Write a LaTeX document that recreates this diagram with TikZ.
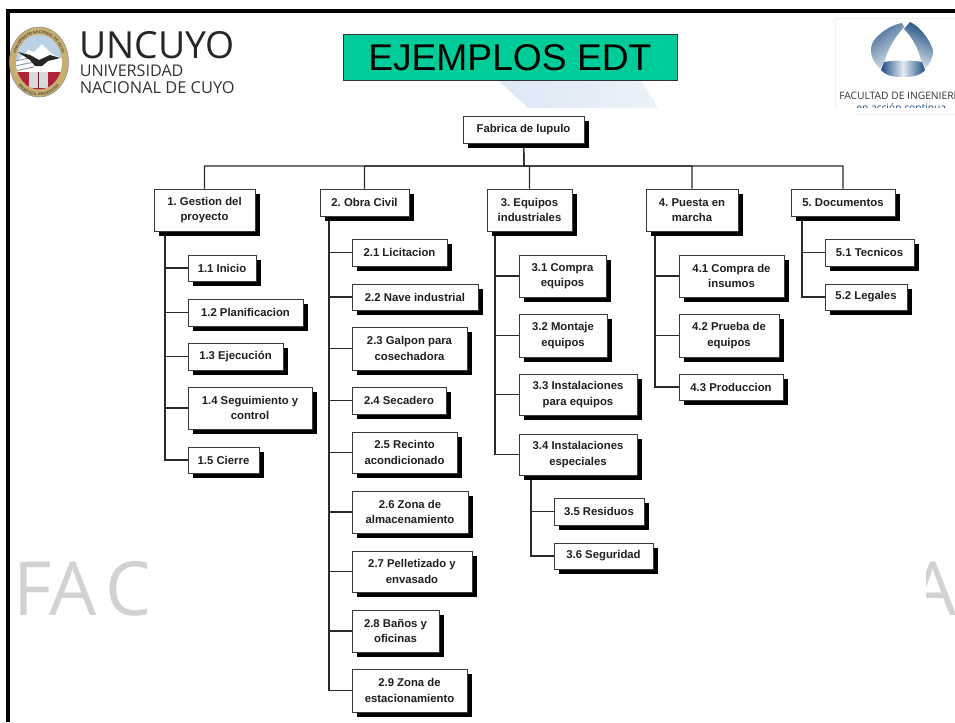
\documentclass[tikz,border=0pt]{standalone}
\usepackage{fontspec}
\setmainfont{Liberation Sans}
\newfontfamily\logofont{Open Sans}
\usetikzlibrary{shadows,backgrounds,decorations.text}
\frenchspacing
\newcommand{\boxfont}{\bfseries\fontsize{8.5}{11.5}\selectfont}
\newcommand{\sealfont}{\bfseries\fontsize{3}{3}\selectfont}
\definecolor{titlegreen}{HTML}{00CC99}
\definecolor{linegray}{HTML}{2A2A2A}
\definecolor{boxedge}{HTML}{3A3A3A}
\definecolor{markgray}{HTML}{D2D2D2}
\definecolor{logoblue}{HTML}{1F4E80}
\definecolor{logolight}{HTML}{E4EBF3}
\definecolor{sealtan}{HTML}{C9AE6E}
\definecolor{sealred}{HTML}{B0243A}
\definecolor{sealsky}{HTML}{B9D2E6}
\definecolor{wash}{HTML}{DCE8F5}
\tikzset{
  wbsbox/.style={draw=boxedge, line width=0.65pt, fill=white, inner sep=0pt, align=center,
    font=\boxfont, text=black!88,
    drop shadow={shadow xshift=3.75pt, shadow yshift=-3.75pt, fill=black, opacity=1}},
  link/.style={draw=linegray, line width=0.8pt},
  plaintext/.style={inner sep=0pt, anchor=base west},
  bigmark/.style={plaintext, font=\logofont\fontsize{56}{60}\selectfont, text=markgray},
}
\newcommand{\bx}[6]{%
  \pgfmathsetmacro\bxw{(#4-#2)*0.75}%
  \pgfmathsetmacro\bxh{(#5-#3)*0.75}%
  \node[wbsbox, minimum width=\bxw pt, minimum height=\bxh pt] (#1) at ({(#2+#4)/2},{(#3+#5)/2}) {#6};%
}
\begin{document}
\begin{tikzpicture}[x=0.75pt,y=-0.75pt]
\useasboundingbox (0,0) rectangle (955,722);
% slide frame
\draw[black, line width=2.6pt] (8,722) -- (8,11) -- (955,11);
% pale wash below the title
\shade[left color=wash, right color=wash!55] (498,80) -- (528,108) -- (658,108) -- (641,80) -- cycle;
% title
\node[draw=black!80, line width=0.7pt, fill=titlegreen, minimum width=250.5pt, minimum height=34.5pt, inner sep=0pt] (title) at (510,57) {};
\node[plaintext, font=\fontsize{27.9}{30}\selectfont] (titletext) at (368,70) {EJEMPLOS EDT};
% UNCUYO wordmark
\node[plaintext, font=\logofont\fontsize{28}{30}\selectfont, text=black!85] (wm1) at (79,58) {UNCUYO};
\node[plaintext, font=\logofont\fontsize{12.1}{13}\selectfont, text=black!80] (wm2) at (79.5,76) {UNIVERSIDAD};
\node[plaintext, font=\logofont\fontsize{12.3}{13}\selectfont, text=black!80] (wm3) at (79.5,93) {NACIONAL DE CUYO};
% seal
\fill[sealtan] (39,62) ellipse[x radius=29.5, y radius=35];
\draw[black!45, line width=0.4pt] (39,62) ellipse[x radius=29.5, y radius=35];
\begin{scope}
  \clip (39,62) ellipse[x radius=23, y radius=27.5];
  \fill[sealsky] (10,30) rectangle (70,95);
  \fill[white] (16,62) -- (28,50) -- (34,52) -- (42,44) -- (52,54) -- (64,60) -- (64,72) -- (16,72) -- cycle;
  \foreach \yy in {58,63,68}{\draw[sealsky!70!black, line width=0.7pt] (15,\yy+3) -- (34,\yy-1);}
  \fill[sealred] (10,72) rectangle (70,95);
  \fill[white!85!black] (29,72) rectangle (48,88);
  \draw[sealred!60!black, line width=0.4pt] (38.5,72) -- (38.5,88);
\end{scope}
\fill[black!85] (18,52) -- (30,55) -- (39,60) -- (50,55) -- (60,58) -- (48,61) -- (42,66) -- (35,66) -- (30,60) -- cycle;
\path[decorate, decoration={text along path, text align=center, raise=-1pt, text={|\sealfont\color{black!70}|UNIVERSIDAD NACIONAL DE CUYO}}]
  (39,62) ++(170:25.5 and 30) arc[start angle=170, end angle=370, x radius=25.5, y radius=30];
\path[decorate, decoration={text along path, text align=center, raise=-1pt, text={|\sealfont\color{black!70}|MENDOZA ARGENTINA}}]
  (39,62) ++(150:27.5 and 32.5) arc[start angle=150, end angle=30, x radius=27.5, y radius=32.5];
% faculty logo
\draw[black!6, line width=0.5pt] (955,18) -- (835,18) -- (835,107);
\draw[black!6, line width=0.5pt] (856,114) -- (955,114);
\shade[left color=logoblue!85, right color=logolight, shading angle=35]
  (880,69) .. controls (870,58) and (868,48) .. (875,39) .. controls (883,30) and (892,25) .. (902,23)
  -- (904,27) .. controls (896,36) and (888,48) .. (885,60) -- cycle;
\shade[top color=logoblue, bottom color=logolight, shading angle=-25]
  (910,22) .. controls (919,26) and (929,38) .. (933,50) .. controls (933,58) and (930,64) .. (925,69)
  -- (921,60) .. controls (918,48) and (912,37) .. (904,29) -- cycle;
\shade[left color=logoblue, right color=logoblue, middle color=logolight]
  (884,62) .. controls (895,60) and (911,60) .. (922,62) -- (925,70) .. controls (920,76) and (912,77) .. (903,77)
  .. controls (894,77) and (886,76) .. (881,70) -- cycle;
\begin{scope}
  \clip (835,18) rectangle (955,107);
  \node[plaintext, font=\logofont\fontsize{7.7}{9}\selectfont, text=black!80] (fi) at (839,99) {FACULTAD DE INGENIERIA};
  \node[plaintext, font=\logofont\fontsize{7.7}{9}\selectfont, text=logoblue] (ac) at (856,111) {en acción continua...};
\end{scope}
% large pale letters
\begin{scope}
  \clip (0,540) rectangle (146,640);
  \node[bigmark] (facf) at (13,615) {F};
  \node[bigmark] (faca) at (49,615) {A};
  \node[bigmark] (facc) at (105,615) {C};
\end{scope}
\begin{scope}
  \clip (926,540) rectangle (955,640);
  \node[bigmark] (facb) at (909,615) {A};
\end{scope}
% boxes
\bx{root}{463}{116}{584}{143}{Fabrica de lupulo}
\bx{a1}{154}{189}{255}{231}{1. Gestion del\\proyecto}
\bx{a2}{320}{189}{409}{216}{2. Obra Civil}
\bx{a3}{487}{189}{572}{231}{3. Equipos\\industriales}
\bx{a4}{646}{189}{738}{231}{4. Puesta en\\marcha}
\bx{a5}{791}{189}{895}{216}{5. Documentos}
\bx{a11}{188}{255}{256}{281}{1.1 Inicio}
\bx{a12}{188}{299}{303}{326}{1.2 Planificacion}
\bx{a13}{188}{343}{283}{370}{1.3 Ejecución}
\bx{a14}{188}{387}{312}{429}{1.4 Seguimiento y\\control}
\bx{a15}{188}{447}{259}{473}{1.5 Cierre}
\bx{a21}{352}{239}{447}{266}{2.1 Licitacion}
\bx{a22}{352}{284}{478}{310}{2.2 Nave industrial}
\bx{a23}{352}{327}{467}{370}{2.3 Galpon para\\cosechadora}
\bx{a24}{352}{387}{446}{414}{2.4 Secadero}
\bx{a25}{352}{432}{457}{473}{2.5 Recinto\\acondicionado}
\bx{a26}{352}{491}{468}{533}{2.6 Zona de\\almacenamiento}
\bx{a27}{352}{551}{472}{592}{2.7 Pelletizado y\\envasado}
\bx{a28}{352}{610}{439}{652}{2.8 Baños y\\oficinas}
\bx{a29}{352}{669}{467}{712}{2.9 Zona de\\estacionamiento}
\bx{a31}{519}{255}{606}{297}{3.1 Compra\\equipos}
\bx{a32}{519}{314}{607}{357}{3.2 Montaje\\equipos}
\bx{a33}{519}{374}{637}{415}{3.3 Instalaciones\\para equipos}
\bx{a34}{519}{434}{637}{475}{3.4 Instalaciones\\especiales}
\bx{a35}{554}{498}{644}{525}{3.5 Residuos}
\bx{a36}{554}{543}{653}{569}{3.6 Seguridad}
\bx{a41}{679}{255}{784}{297}{4.1 Compra de\\insumos}
\bx{a42}{679}{314}{779}{357}{4.2 Prueba de\\equipos}
\bx{a43}{679}{374}{783}{400}{4.3 Produccion}
\bx{a51}{825}{239}{914}{266}{5.1 Tecnicos}
\bx{a52}{825}{284}{907}{310}{5.2 Legales}
% connectors, under the boxes and their shadows
\coordinate (bus) at (524,166);
\coordinate (t1) at (165,0);
\coordinate (t2) at (329,0);
\coordinate (t3) at (495,0);
\coordinate (t34) at (531,0);
\coordinate (t4) at (655,0);
\coordinate (t5) at (802,0);
\begin{scope}[on background layer]
  \fill[white] (0,0) rectangle (955,722);
  \foreach \n in {a1,a2,a3,a4,a5}{\draw[link] (root.south) -- (bus) -| (\n.north);}
  \foreach \n in {a11,a12,a13,a14,a15}{\draw[link] (a1.south -| t1) |- (\n.west);}
  \foreach \n in {a21,a22,a23,a24,a25,a26,a27,a28,a29}{\draw[link] (a2.south -| t2) |- (\n.west);}
  \foreach \n in {a31,a32,a33,a34}{\draw[link] (a3.south -| t3) |- (\n.west);}
  \foreach \n in {a35,a36}{\draw[link] (a34.south -| t34) |- (\n.west);}
  \foreach \n in {a41,a42,a43}{\draw[link] (a4.south -| t4) |- (\n.west);}
  \foreach \n in {a51,a52}{\draw[link] (a5.south -| t5) |- (\n.west);}
\end{scope}
\end{tikzpicture}
\end{document}
